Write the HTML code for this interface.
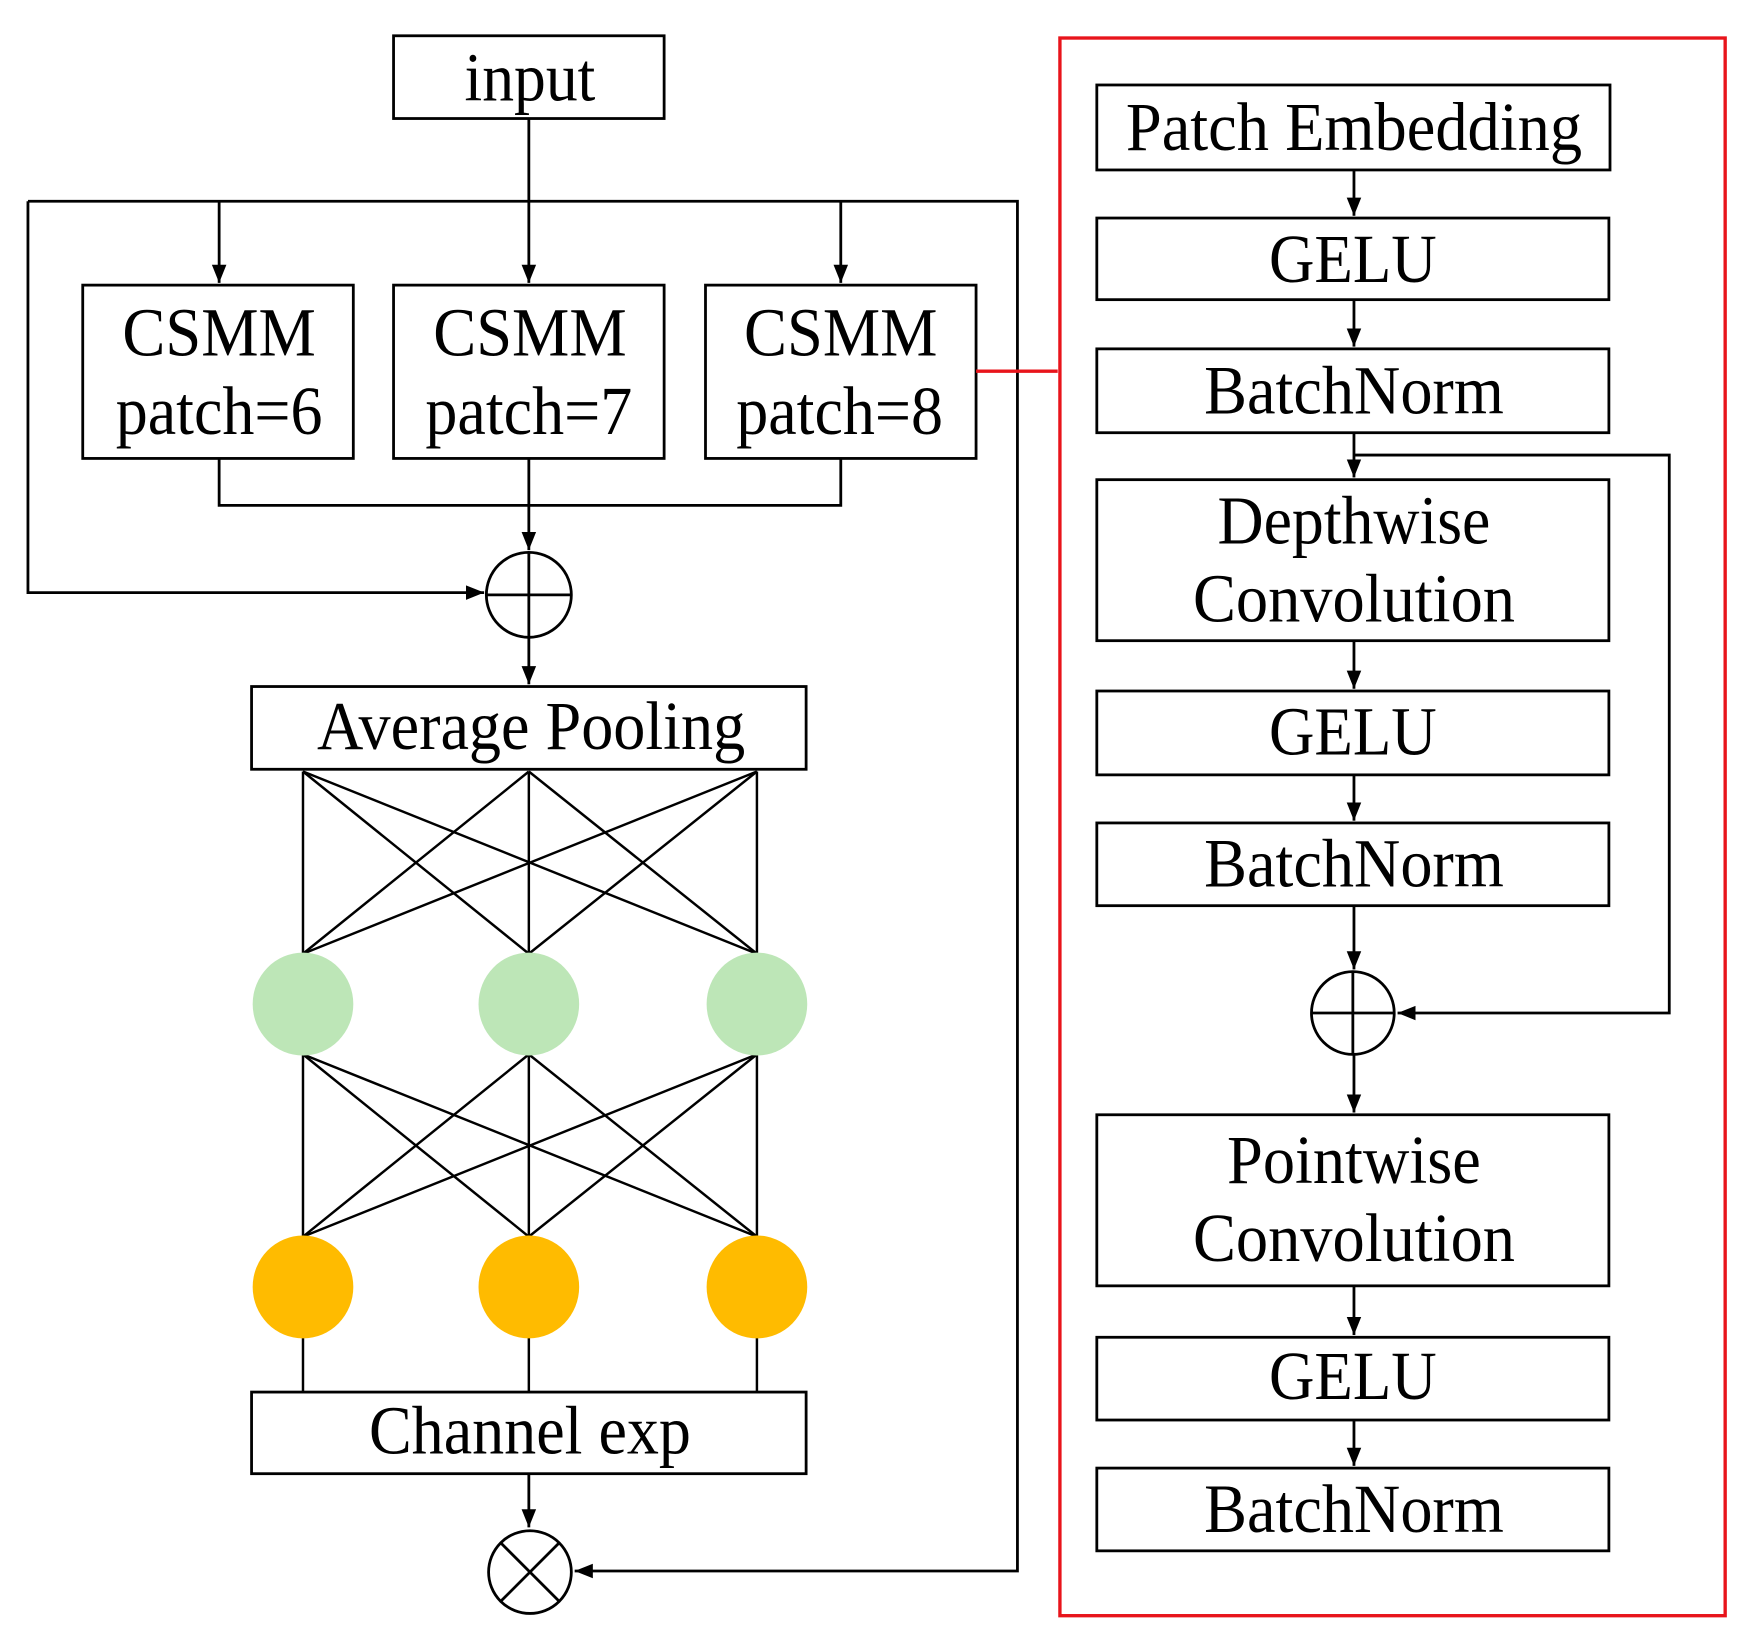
<!DOCTYPE html>
<html><head><meta charset="utf-8"><style>html,body{margin:0;padding:0;background:#fff}svg{display:block}</style></head>
<body>
<svg width="1752" height="1647" viewBox="0 0 1567 1473" preserveAspectRatio="none" xmlns="http://www.w3.org/2000/svg">
<defs>
<marker id="a" viewBox="0 0 10 10" refX="10" refY="5" markerWidth="6.5" markerHeight="6.5" orient="auto"><path d="M0,1 L10,5 L0,9 z" fill="#000"/></marker>
</defs>
<g fill="none" stroke="#000" stroke-width="2.5">
<rect x="352" y="32" width="242" height="74"/>
<line x1="473" y1="106" x2="473" y2="180"/>
<polyline points="25,180 910,180 910,1405 514,1405" marker-end="url(#a)"/>
<polyline points="25,180 25,530 433,530" marker-end="url(#a)"/>
<line x1="196" y1="180" x2="196" y2="253" marker-end="url(#a)"/>
<line x1="473" y1="180" x2="473" y2="253" marker-end="url(#a)"/>
<line x1="752" y1="180" x2="752" y2="253" marker-end="url(#a)"/>
<rect x="74" y="255" width="242" height="155"/>
<rect x="352" y="255" width="242" height="155"/>
<rect x="631" y="255" width="242" height="155"/>
<polyline points="196,410 196,452 752,452 752,410"/>
<line x1="473" y1="410" x2="473" y2="492" marker-end="url(#a)"/>
<circle cx="473" cy="532" r="38"/>
<line x1="435" y1="532" x2="511" y2="532"/><line x1="473" y1="494" x2="473" y2="570"/>
<line x1="473" y1="570" x2="473" y2="612" marker-end="url(#a)"/>
<rect x="225" y="614" width="496" height="74"/>
</g>
<g stroke="#000" stroke-width="2.2">
<line x1="271" y1="690" x2="271" y2="853"/><line x1="271" y1="690" x2="473" y2="853"/><line x1="271" y1="690" x2="677" y2="853"/>
<line x1="473" y1="690" x2="271" y2="853"/><line x1="473" y1="690" x2="473" y2="853"/><line x1="473" y1="690" x2="677" y2="853"/>
<line x1="677" y1="690" x2="271" y2="853"/><line x1="677" y1="690" x2="473" y2="853"/><line x1="677" y1="690" x2="677" y2="853"/>
<line x1="271" y1="943" x2="271" y2="1106"/><line x1="271" y1="943" x2="473" y2="1106"/><line x1="271" y1="943" x2="677" y2="1106"/>
<line x1="473" y1="943" x2="271" y2="1106"/><line x1="473" y1="943" x2="473" y2="1106"/><line x1="473" y1="943" x2="677" y2="1106"/>
<line x1="677" y1="943" x2="271" y2="1106"/><line x1="677" y1="943" x2="473" y2="1106"/><line x1="677" y1="943" x2="677" y2="1106"/>
<line x1="271" y1="1196" x2="271" y2="1245"/><line x1="473" y1="1196" x2="473" y2="1245"/><line x1="677" y1="1196" x2="677" y2="1245"/>
</g>
<g fill="#bde6b7"><ellipse cx="271" cy="898" rx="45" ry="46"/><ellipse cx="473" cy="898" rx="45" ry="46"/><ellipse cx="677" cy="898" rx="45" ry="46"/></g>
<g fill="#ffbb00"><ellipse cx="271" cy="1151" rx="45" ry="46"/><ellipse cx="473" cy="1151" rx="45" ry="46"/><ellipse cx="677" cy="1151" rx="45" ry="46"/></g>
<g fill="none" stroke="#000" stroke-width="2.5">
<rect x="225" y="1245" width="496" height="73"/>
<line x1="473" y1="1318" x2="473" y2="1366" marker-end="url(#a)"/>
<circle cx="474" cy="1406" r="37"/>
<line x1="448" y1="1380" x2="500" y2="1432"/><line x1="500" y1="1380" x2="448" y2="1432"/>
</g>
<rect x="948" y="34" width="595" height="1411" fill="none" stroke="#e8141b" stroke-width="3"/>
<line x1="873" y1="332" x2="946" y2="332" stroke="#e8141b" stroke-width="3"/>
<g fill="none" stroke="#000" stroke-width="2.5">
<rect x="981" y="76" width="459" height="76"/>
<rect x="981" y="195" width="458" height="73"/>
<rect x="981" y="312" width="458" height="75"/>
<rect x="981" y="429" width="458" height="144"/>
<rect x="981" y="618" width="458" height="75"/>
<rect x="981" y="736" width="458" height="74"/>
<rect x="981" y="997" width="458" height="153"/>
<rect x="981" y="1196" width="458" height="74"/>
<rect x="981" y="1313" width="458" height="74"/>
<line x1="1211" y1="152" x2="1211" y2="193" marker-end="url(#a)"/>
<line x1="1211" y1="268" x2="1211" y2="310" marker-end="url(#a)"/>
<line x1="1211" y1="387" x2="1211" y2="427" marker-end="url(#a)"/>
<line x1="1211" y1="573" x2="1211" y2="616" marker-end="url(#a)"/>
<line x1="1211" y1="693" x2="1211" y2="734" marker-end="url(#a)"/>
<line x1="1211" y1="810" x2="1211" y2="867" marker-end="url(#a)"/>
<circle cx="1210" cy="906" r="37"/>
<line x1="1173" y1="906" x2="1247" y2="906"/><line x1="1210" y1="869" x2="1210" y2="943"/>
<line x1="1211" y1="943" x2="1211" y2="995" marker-end="url(#a)"/>
<line x1="1211" y1="1150" x2="1211" y2="1194" marker-end="url(#a)"/>
<line x1="1211" y1="1270" x2="1211" y2="1311" marker-end="url(#a)"/>
<polyline points="1211,407 1493,407 1493,906 1250,906" marker-end="url(#a)"/>
</g>
<g font-family="Liberation Serif, serif" font-size="62" fill="#000" text-anchor="middle">
<text x="474" y="90" textLength="117" lengthAdjust="spacingAndGlyphs">input</text>
<text x="196" y="318" textLength="173" lengthAdjust="spacingAndGlyphs">CSMM</text>
<text x="196" y="388" textLength="185" lengthAdjust="spacingAndGlyphs">patch=6</text>
<text x="474" y="318" textLength="173" lengthAdjust="spacingAndGlyphs">CSMM</text>
<text x="473" y="388" textLength="185" lengthAdjust="spacingAndGlyphs">patch=7</text>
<text x="752" y="318" textLength="173" lengthAdjust="spacingAndGlyphs">CSMM</text>
<text x="751" y="388" textLength="185" lengthAdjust="spacingAndGlyphs">patch=8</text>
<text x="475" y="670" textLength="383" lengthAdjust="spacingAndGlyphs">Average Pooling</text>
<text x="474" y="1300" textLength="288" lengthAdjust="spacingAndGlyphs">Channel exp</text>
<text x="1211" y="134" textLength="408" lengthAdjust="spacingAndGlyphs">Patch Embedding</text>
<text x="1210" y="252" textLength="150" lengthAdjust="spacingAndGlyphs">GELU</text>
<text x="1211" y="370" textLength="268" lengthAdjust="spacingAndGlyphs">BatchNorm</text>
<text x="1211" y="486" textLength="244" lengthAdjust="spacingAndGlyphs">Depthwise</text>
<text x="1211" y="556" textLength="288" lengthAdjust="spacingAndGlyphs">Convolution</text>
<text x="1210" y="675" textLength="150" lengthAdjust="spacingAndGlyphs">GELU</text>
<text x="1211" y="793" textLength="268" lengthAdjust="spacingAndGlyphs">BatchNorm</text>
<text x="1211" y="1058" textLength="227" lengthAdjust="spacingAndGlyphs">Pointwise</text>
<text x="1211" y="1128" textLength="288" lengthAdjust="spacingAndGlyphs">Convolution</text>
<text x="1210" y="1251" textLength="150" lengthAdjust="spacingAndGlyphs">GELU</text>
<text x="1211" y="1370" textLength="268" lengthAdjust="spacingAndGlyphs">BatchNorm</text>
</g>
</svg>
</body></html>
